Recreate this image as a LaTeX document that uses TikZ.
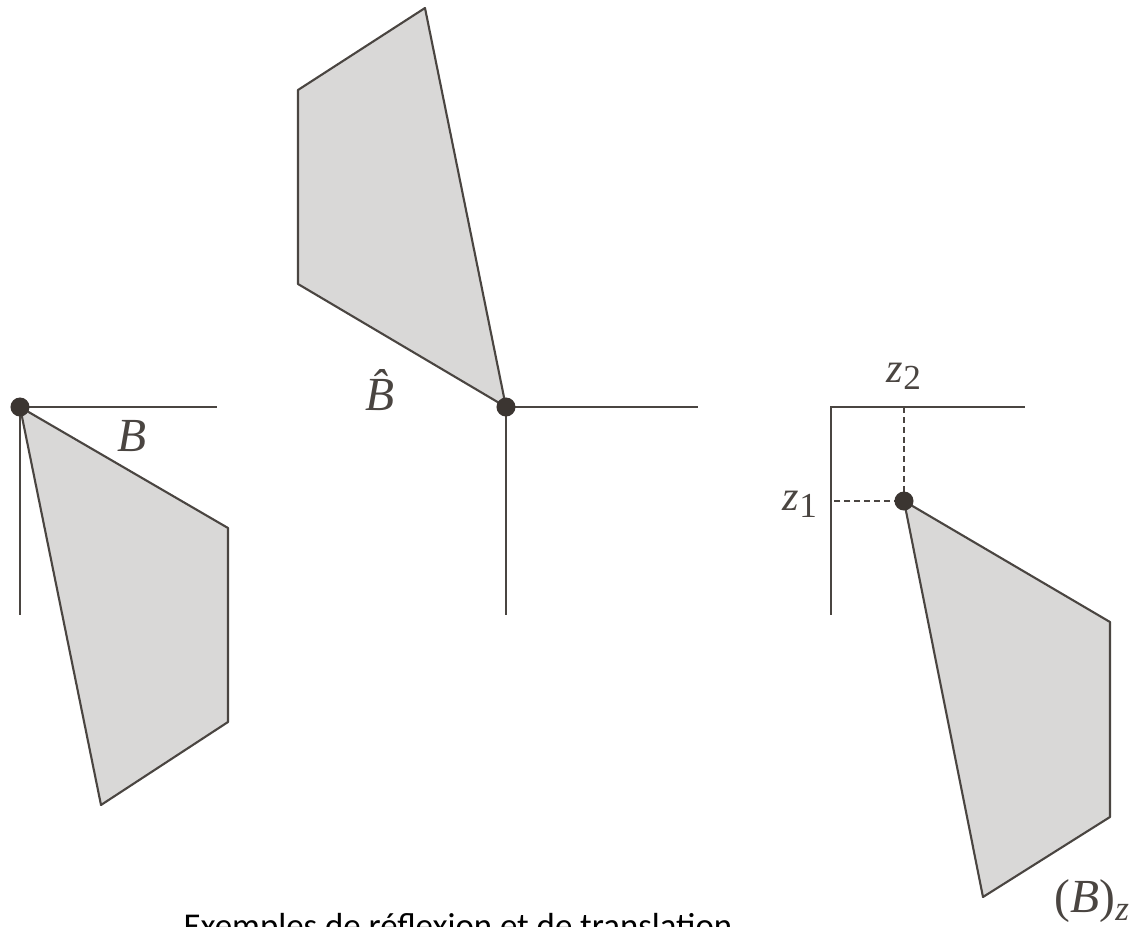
\documentclass[tikz,border=0pt]{standalone}
\usepackage{fontspec}
\setmainfont{Liberation Serif}
\newfontfamily\capfont{Carlito}
\usepackage{tikz}
\usetikzlibrary{positioning,calc}
\definecolor{Edge}{HTML}{4A4541}
\definecolor{Shade}{HTML}{D9D8D7}
\definecolor{Dot}{HTML}{3B3531}
\tikzset{
  region/.style={draw=Edge,fill=Shade,line width=0.6pt,line join=round},
  axis/.style={draw=Edge,line width=0.6pt},
  guide/.style={draw=Edge,line width=0.6pt,dash pattern=on 1.7pt off 1.1pt},
  origin/.style={circle,fill=Dot,inner sep=0pt,minimum size=1.9mm},
  lbl/.style={font=\fontsize{13.5}{16}\selectfont\itshape,text=Edge,inner sep=0pt,anchor=base},
  sublbl/.style={font=\fontsize{12}{14}\selectfont\itshape,text=Edge,inner sep=0pt,anchor=base}
}
\newcommand{\idx}[1]{\raisebox{-0.4ex}{\upshape\fontsize{10}{12}\selectfont #1}}
\begin{document}
\begin{tikzpicture}[x=0.01cm,y=-0.01cm]
\useasboundingbox (0,0) rectangle (1141,927);
% set B
\coordinate (c1) at (20,407);
\draw[axis] (217,407) -- (c1) -- (20,615);
\draw[region] (c1) -- (228,528) -- (228,722) -- (101,805) -- cycle;
\node[origin] (o1) at (c1) {};
\node[lbl] (lB) at (132,451) {B};
% reflection of B
\coordinate (c2) at (506,407);
\draw[axis] (698,407) -- (c2) -- (506,615);
\draw[region] (c2) -- (425,8) -- (298,90) -- (298,284) -- cycle;
\node[origin] (o2) at (c2) {};
\node[lbl] (lBhat) at (380,410) {\^{B}};
% translation of B by z
\coordinate (c3) at (831,407);
\draw[axis] (1025,407) -- (c3) -- (831,615);
\coordinate (p3) at (904,501);
\draw[guide] (p3 |- c3) -- (p3) -- (p3 -| c3);
\draw[region] (p3) -- (1110,622) -- (1110,817) -- (983,897) -- cycle;
\node[origin] (o3) at (p3) {};
\node[sublbl] (lz2) at (904,382) {z\idx{2}};
\node[sublbl] (lz1) at (800,510) {z\idx{1}};
\node[lbl] (lBz) at (1092,912) {\upshape(\itshape B\upshape)\idx{\itshape z}};
% caption
\node[font=\capfont\fontsize{9.9}{12}\selectfont,inner sep=0pt,anchor=base] (caption) at (458,937) {Exemples de réflexion et de translation};
\end{tikzpicture}
\end{document}
